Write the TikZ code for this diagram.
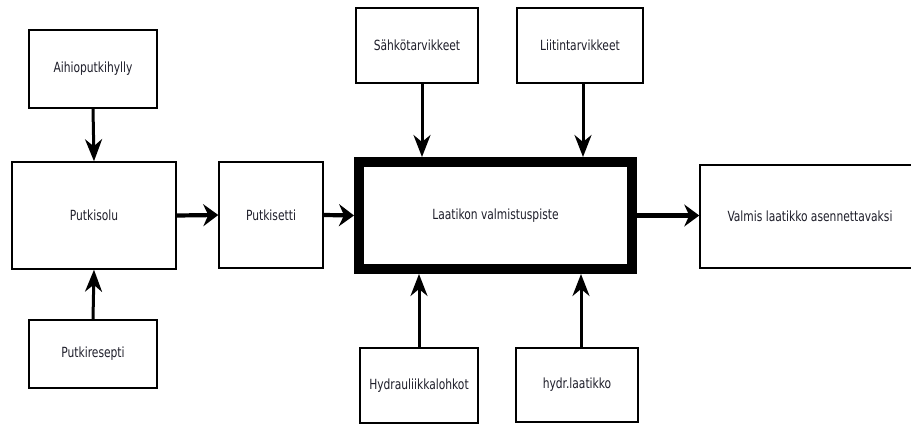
\documentclass[tikz,border=0pt]{standalone}
\usepackage{fontspec}
\setmainfont[FakeStretch=0.85]{DejaVu Sans Condensed}
\usetikzlibrary{arrows.meta}
\definecolor{lineMain}{HTML}{000000}
\definecolor{textMain}{HTML}{1E1E2A}
\tikzset{
  stagebox/.style={
    draw=lineMain, fill=white, line width=1.5pt,
    font=\fontsize{14}{16}\selectfont, text=textMain, align=center, inner sep=0pt,
  },
  hubbox/.style={
    stagebox, line width=10pt,
  },
  flowarrow/.style={
    -{Stealth[length=15pt, width=22pt, inset=5pt]}, line width=4.2pt, color=lineMain,
  },
  feedarrow/.style={
    -{Stealth[length=22pt, width=17pt, inset=7pt]}, line width=3pt, color=lineMain,
  },
}

\begin{document}
\begin{tikzpicture}[x=1pt, y=-1pt]

  % === Frame ===
  \clip (0,0) rectangle (911,425);
  \fill[white] (0,0) rectangle (911,425);

  % === Pipe side ===
  \node[stagebox, minimum width=128pt, minimum height=78pt] (aihio) at (93,69) {Aihioputkihylly};
  \node[stagebox, minimum width=164pt, minimum height=107pt] (putkisolu) at (94,215.5) {Putkisolu};
  \node[stagebox, minimum width=128pt, minimum height=68pt] (resepti) at (93,354) {Putkiresepti};
  \node[stagebox, minimum width=104pt, minimum height=106pt] (putkisetti) at (271,215) {Putkisetti};

  % === Assembly station ===
  \node[hubbox, minimum width=273pt, minimum height=107pt] (valmistus) at (495.5,215.5) {Laatikon valmistuspiste};

  % === Supplies ===
  \node[stagebox, minimum width=122pt, minimum height=75pt] (sahko) at (417,45.5) {Sähkötarvikkeet};
  \node[stagebox, minimum width=126pt, minimum height=75pt] (liitin) at (580,45.5) {Liitintarvikkeet};
  \node[stagebox, minimum width=118pt, minimum height=75pt] (lohkot) at (419,385.5) {Hydrauliikkalohkot};
  \node[stagebox, minimum width=122pt, minimum height=74pt] (hlaatikko) at (577,385) {hydr.laatikko};

  % === Output ===
  \node[stagebox, minimum width=220pt, minimum height=103pt] (valmis) at (810,216.5) {Valmis laatikko asennettavaksi};

  % === Arrows ===
  \draw[feedarrow] (aihio.south) -- (putkisolu.north);
  \draw[feedarrow] (resepti.north) -- (putkisolu.south);
  \draw[flowarrow] (putkisolu.east) -- (putkisetti.west);
  \draw[flowarrow] (putkisetti.east) -- (valmistus.west);
  \draw[flowarrow] (valmistus.east) -- (valmis.west |- valmistus.east);

  % Supply arrows
  \draw[feedarrow] ([xshift=5pt]sahko.south) -- ([xshift=5pt]sahko.south |- valmistus.north);
  \draw[feedarrow] ([xshift=3pt]liitin.south) -- ([xshift=3pt]liitin.south |- valmistus.north);
  \draw[feedarrow] (lohkot.north) -- (lohkot.north |- valmistus.south);
  \draw[feedarrow] ([xshift=4pt]hlaatikko.north) -- ([xshift=4pt]hlaatikko.north |- valmistus.south);

\end{tikzpicture}
\end{document}
